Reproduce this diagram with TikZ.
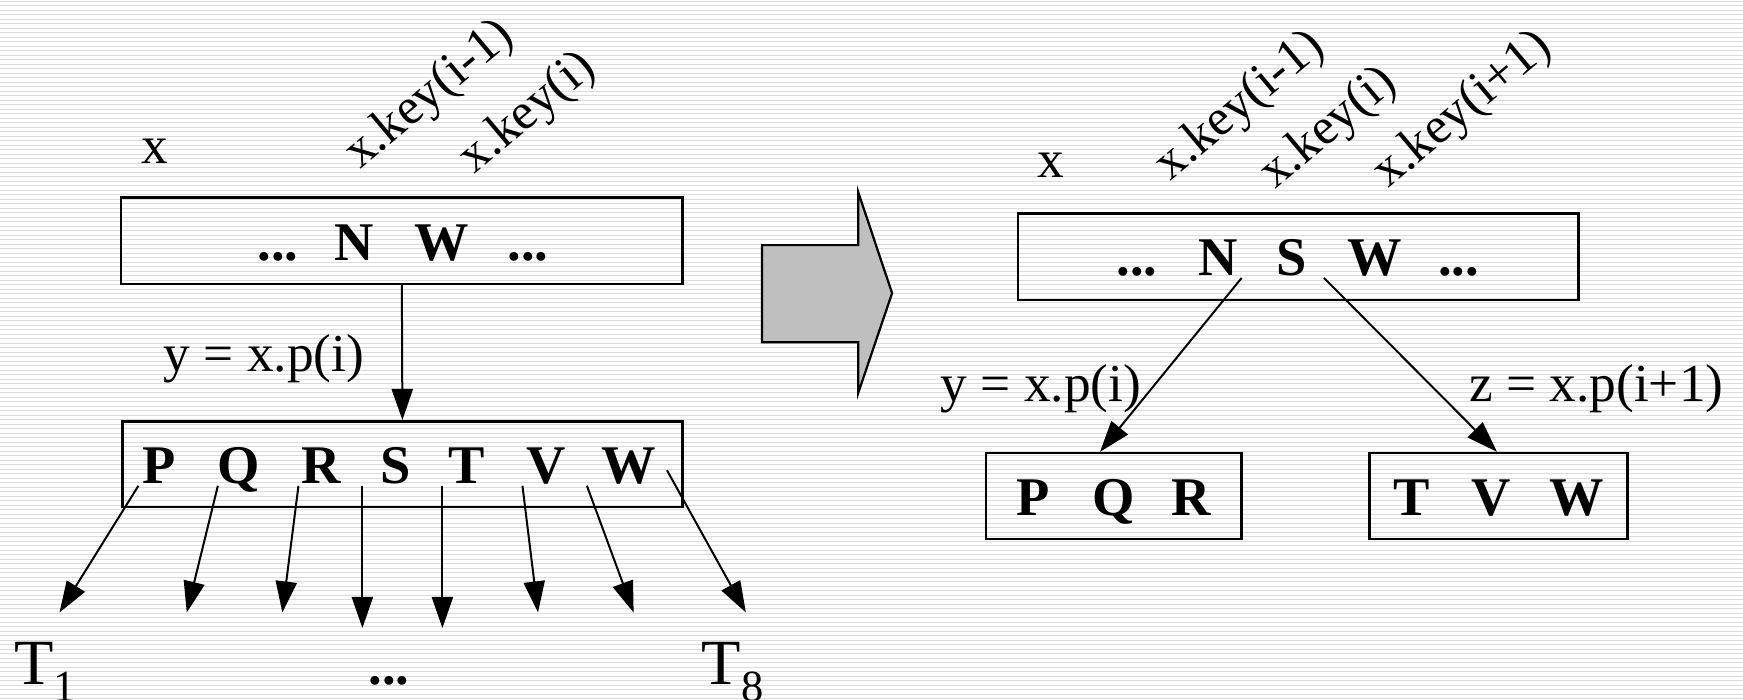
\documentclass[tikz,border=0pt]{standalone}
\usepackage{fontspec}
\setmainfont{Liberation Serif}
\usetikzlibrary{arrows.meta}

\definecolor{stripe}{gray}{0.86}
\definecolor{arrowgray}{gray}{0.75}

\tikzset{
  keybox/.style={draw, line width=2.2pt, inner sep=0pt},
  key/.style={font=\fontsize{49}{49}\selectfont\bfseries, inner sep=0pt, anchor=base},
  lbl/.style={font=\fontsize{48}{48}\selectfont, inner sep=0pt, anchor=base},
  keylbl/.style={font=\fontsize{46}{46}\selectfont, inner sep=0pt, anchor=base west, rotate=40},
  tlbl/.style={font=\fontsize{58}{58}\selectfont, inner sep=0pt, anchor=base west},
  ptr/.style={line width=1.8pt, -{Triangle[length=28pt,width=19pt]}},
}
\newcommand{\subidx}[1]{\raisebox{-15pt}{\fontsize{40}{40}\selectfont #1}}

\begin{document}
\begin{tikzpicture}[x=1pt, y=-1pt]
\useasboundingbox (0,0) rectangle (1568,629);
% striped background
\foreach \y in {1,5.05,...,629}
  \draw[stripe, line width=0.9pt] (0,\y) -- (1568,\y);

% before: node x and its child y
\node[keybox, minimum width=505pt, minimum height=78pt] (xold) at (361.5,216.5) {};
\node[key] (oldda) at (250,234) {...};
\node[key] (oldN) at (319,234) {N};
\node[key] (oldW) at (397.5,234) {W};
\node[key] (olddb) at (475,234) {...};
\node[lbl] (xoldl) at (139.5,147) {x};
\node[keylbl] (oldka) at (324,153) {x.key(i-1)};
\node[keylbl] (oldkb) at (427,157) {x.key(i)};

\node[keybox, minimum width=504pt, minimum height=77pt] (yold) at (362,417.5) {};
\foreach \l/\xx in {P/143,Q/215,R/289,S/356,T/420,V/491,W/566}
  \node[key] (y\l) at (\xx,435) {\l};
\draw[ptr] (xold.south) -- (yold.north);
\node[lbl] (yoldl) at (237.5,334.5) {y = x.p(i)};

% subtrees T1 ... T8
\foreach \i/\sx/\sy/\tx/\ty in {1/124.5/437/53.5/551, 2/196/437/168/551,
    3/268.5/437/254/551, 4/326/437/326/565, 5/398/437/398/565,
    6/470/437/484/551, 7/528/437/570/551, 8/600/423/671/551} {
  \coordinate (s\i) at (\sx,\sy);
  \coordinate (t\i) at (\tx,\ty);
  \draw[ptr] (s\i) -- (t\i);
}
\node[tlbl] (Ta) at (12.5,616) {T\subidx{1}};
\node[tlbl] (Th) at (631,616) {T\subidx{8}};
\node[key] (tdots) at (350,616) {...};

% block arrow
\draw[line width=2pt, fill=arrowgray] (685.5,220.5) -- (772,220.5) -- (772,172.6)
  -- (802.5,263.7) -- (772,353.7) -- (772,307.9) -- (685.5,307.9) -- cycle;

% after: S moved up into x, y and z split
\node[keybox, minimum width=504pt, minimum height=78pt] (xnew) at (1168,231) {};
\node[key] (newda) at (1023,248) {...};
\node[key] (newN) at (1096,248) {N};
\node[key] (newS) at (1162,248) {S};
\node[key] (newW) at (1237,248) {W};
\node[key] (newdb) at (1312,248) {...};
\node[lbl] (xnewl) at (945,160) {x};
\node[keylbl] (newka) at (1053,163) {x.key(i-1)};
\node[keylbl] (newkb) at (1147,171) {x.key(i)};
\node[keylbl] (newkc) at (1249,170) {x.key(i+1)};

\node[keybox, minimum width=230pt, minimum height=77.5pt] (ynew) at (1002,446.3) {};
\node[key] (yP) at (929,463.5) {P};
\node[key] (yQ) at (1002,463.5) {Q};
\node[key] (yR) at (1072,463.5) {R};
\node[keybox, minimum width=232pt, minimum height=77.5pt] (znew) at (1348,446.3) {};
\node[key] (zT) at (1269.5,463.5) {T};
\node[key] (zV) at (1341,463.5) {V};
\node[key] (zW) at (1418,463.5) {W};

\coordinate (ns) at (1117,250);
\coordinate (ne) at (ynew.north -| 989.6,0);
\coordinate (ss) at (1191,250);
\coordinate (se) at (znew.north -| 1346.7,0);
\draw[ptr] (ns) -- (ne);
\draw[ptr] (ss) -- (se);
\node[lbl] (ynewl) at (936.5,361.5) {y = x.p(i)};
\node[lbl] (znewl) at (1436,361.5) {z = x.p(i+1)};
\end{tikzpicture}
\end{document}
